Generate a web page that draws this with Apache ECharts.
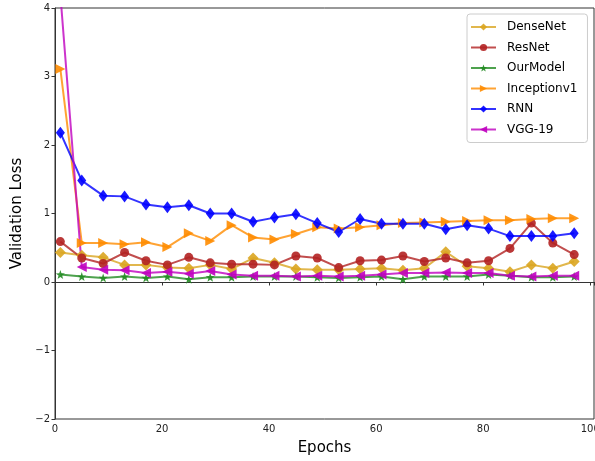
<!DOCTYPE html>
<html>
<head>
<meta charset="utf-8">
<script src="https://cdn.jsdelivr.net/npm/echarts@6/dist/echarts.min.js"></script>
<style>
  html, body { margin: 0; padding: 0; background: #fff; }
  #chart { width: 595px; height: 461px; }
</style>
</head>
<body>
<div id="chart"></div>
<script>
// Validation loss recorded every 4 epochs
const epochs = [1, 5, 9, 13, 17, 21, 25, 29, 33, 37, 41, 45, 49, 53, 57, 61, 65, 69, 73, 77, 81, 85, 89, 93, 97];

const denseNet   = [0.43, 0.39, 0.36, 0.25, 0.25, 0.21, 0.20, 0.25, 0.19, 0.35, 0.28, 0.19, 0.18, 0.18, 0.19, 0.20, 0.17, 0.20, 0.44, 0.23, 0.20, 0.15, 0.25, 0.20, 0.30];
const resNet     = [0.59, 0.35, 0.27, 0.43, 0.31, 0.25, 0.36, 0.28, 0.26, 0.26, 0.25, 0.38, 0.35, 0.21, 0.31, 0.32, 0.38, 0.30, 0.35, 0.28, 0.31, 0.49, 0.86, 0.57, 0.40];
const ourModel   = [0.11, 0.08, 0.06, 0.08, 0.06, 0.08, 0.04, 0.07, 0.07, 0.08, 0.08, 0.08, 0.07, 0.06, 0.07, 0.08, 0.04, 0.08, 0.08, 0.08, 0.11, 0.09, 0.07, 0.07, 0.08];
const inception  = [3.11, 0.57, 0.57, 0.55, 0.58, 0.51, 0.71, 0.60, 0.83, 0.65, 0.62, 0.70, 0.80, 0.78, 0.80, 0.83, 0.86, 0.87, 0.88, 0.89, 0.90, 0.90, 0.92, 0.93, 0.93];
const rnn        = [2.18, 1.48, 1.26, 1.25, 1.13, 1.09, 1.12, 1.00, 1.00, 0.88, 0.94, 0.99, 0.86, 0.73, 0.92, 0.85, 0.85, 0.85, 0.77, 0.83, 0.78, 0.67, 0.67, 0.67, 0.71];
const vgg19      = [4.20, 0.22, 0.18, 0.17, 0.13, 0.15, 0.12, 0.16, 0.11, 0.09, 0.09, 0.08, 0.09, 0.08, 0.09, 0.11, 0.13, 0.13, 0.14, 0.13, 0.13, 0.09, 0.08, 0.09, 0.09];

const xTicks = [0, 20, 40, 60, 80, 100];
const yTicks = [-2, -1, 0, 1, 2, 3, 4];

const STAR = 'path://M0,-10 L2.35,-3.24 L9.51,-3.09 L3.8,1.24 L5.88,8.09 L0,4 L-5.88,8.09 L-3.8,1.24 L-9.51,-3.09 L-2.35,-3.24 Z';

function pairs(values) {
  return epochs.map((e, i) => [e, values[i]]);
}

function lineSeries(name, values, color, symbol, size, rotate) {
  return {
    name: name,
    type: 'line',
    data: pairs(values),
    symbol: symbol,
    symbolSize: size,
    symbolRotate: rotate || 0,
    showAllSymbol: true,
    clip: true,
    lineStyle: { color: color, width: 2, opacity: 0.8 },
    itemStyle: { color: color, opacity: 0.9 },
    emphasis: { disabled: true },
    animation: false
  };
}

const chart = echarts.init(document.getElementById('chart'), null, { renderer: 'canvas' });
const fontFamily = 'DejaVu Sans';
const minus = v => String(v).replace('-', '\u2212');

chart.setOption({
  backgroundColor: '#ffffff',
  animation: false,
  textStyle: { fontFamily: fontFamily },
  grid: {
    left: 55, right: 1, top: 8, bottom: 42,
    containLabel: false,
    outerBoundsMode: 'none',
    show: true, borderColor: '#333', borderWidth: 1
  },
  legend: {
    orient: 'vertical',
    left: 467, top: 14,
    padding: [7, 10, 7, 3],
    backgroundColor: 'rgba(255,255,255,0.8)',
    borderColor: '#cccccc', borderWidth: 1, borderRadius: 3,
    itemWidth: 25, itemHeight: 9, itemGap: 8.5,
    textStyle: { fontFamily: fontFamily, fontSize: 12, color: '#000', padding: [0, 0, 0, 6] },
    data: ['DenseNet', 'ResNet', 'OurModel', 'Inceptionv1', 'RNN', 'VGG-19']
  },
  xAxis: {
    type: 'value',
    min: 0, max: 100.7, interval: 20,
    name: 'Epochs', nameLocation: 'middle', nameGap: 22,
    nameTextStyle: { fontFamily: fontFamily, fontSize: 15, color: '#000' },
    axisLine: { show: true, lineStyle: { color: '#333', width: 1 } },
    axisTick: { show: true, length: 3.5, lineStyle: { color: '#333' } },
    axisLabel: {
      fontFamily: fontFamily, fontSize: 10, color: '#222', margin: 5,
      formatter: v => (xTicks.indexOf(v) >= 0 ? minus(v) : '')
    },
    splitLine: { show: false }
  },
  yAxis: {
    type: 'value',
    min: -2, max: 4, interval: 1,
    name: 'Validation Loss', nameLocation: 'middle', nameGap: 28, nameRotate: 90,
    nameTextStyle: { fontFamily: fontFamily, fontSize: 15, color: '#000' },
    axisLine: { show: true, lineStyle: { color: '#333', width: 1 } },
    axisTick: { show: true, length: 3.5, lineStyle: { color: '#333' } },
    axisLabel: {
      fontFamily: fontFamily, fontSize: 10, color: '#222', margin: 5,
      formatter: v => (yTicks.indexOf(v) >= 0 ? minus(v) : '')
    },
    splitLine: { show: false }
  },
  series: [
    lineSeries('DenseNet', denseNet, '#DAA520', 'diamond', 11),
    lineSeries('ResNet', resNet, '#B22222', 'circle', 9),
    lineSeries('OurModel', ourModel, '#228B22', STAR, 9),
    lineSeries('Inceptionv1', inception, '#FF8C00', 'triangle', 10, -90),
    lineSeries('RNN', rnn, '#0000FF', 'diamond', [9, 12]),
    lineSeries('VGG-19', vgg19, '#BF00BF', 'triangle', 10, 90)
  ]
});
</script>
</body>
</html>
